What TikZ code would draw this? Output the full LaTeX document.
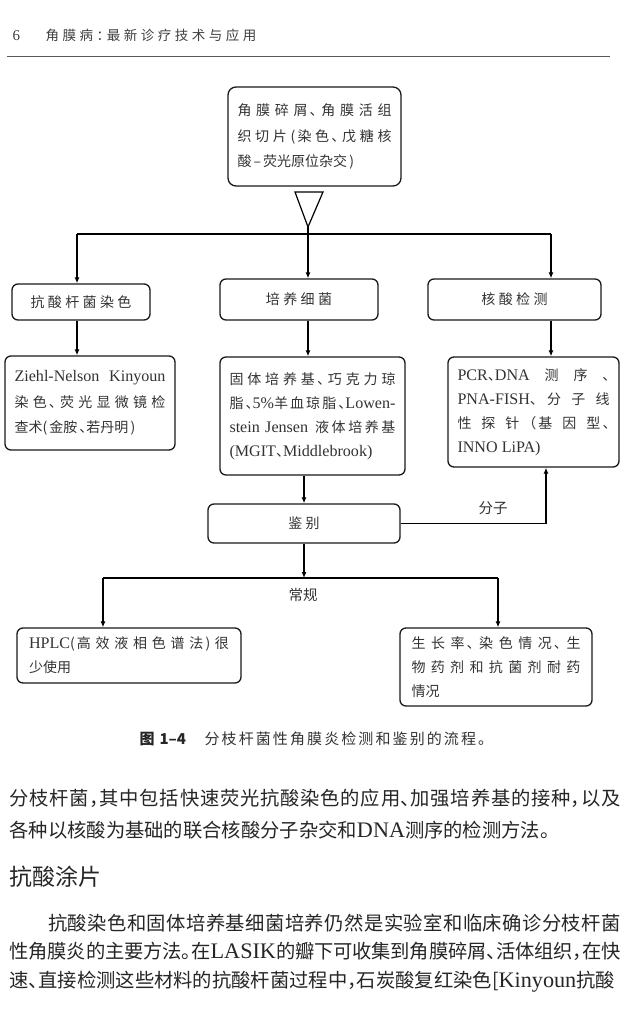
\documentclass[tikz,border=0pt]{standalone}
\usepackage{fontspec}
\usepackage{tikz}
\usetikzlibrary{arrows.meta}
\setmainfont{Liberation Serif}[Scale=1.15]
\newfontfamily\cjk{Noto Sans CJK SC}[RawFeature=+halt]
\newfontfamily\cjkbox{Noto Sans CJK SC}[LetterSpace=15,RawFeature=+halt]
\newfontfamily\cjkwide{Noto Sans CJK SC}[LetterSpace=24,RawFeature=+halt]
\newfontfamily\cjkhead{Noto Sans CJK SC}[LetterSpace=26,RawFeature=+halt]
\newfontfamily\cjkcap{Noto Sans CJK SC}[LetterSpace=14,RawFeature=+halt]
\newcommand{\en}[1]{{\rmfamily #1}}
\XeTeXlinebreaklocale "zh"
\XeTeXlinebreakskip=0pt plus 4pt minus 1pt
\tolerance=10000
\hbadness=10000

\begin{document}
\begin{tikzpicture}[x=1pt, y=-1pt, line width=1.2pt,
  >={Latex[length=6pt,width=5pt]},
  flowbox/.style={draw=black!90, line width=1.3pt, rounded corners=6pt,
    inner xsep=9.5pt, inner ysep=0pt, text=black!80,
    font=\cjkwide\fontsize{14}{24}\selectfont},
  textbox/.style={flowbox, align=justify, font=\cjkbox\fontsize{14}{24}\selectfont},
  tag/.style={text=black!80, inner sep=0pt, font=\cjk\fontsize{14.5}{16}\selectfont},
  bodytext/.style={anchor=base west, inner sep=0pt, text=black!85, align=justify,
    text width=611pt}]
% Page
\fill[white] (0,0) rectangle (640,1012);
\useasboundingbox (0,0) rectangle (640,1012);
% Running head
\node[anchor=base west, inner sep=0pt, text=black!75, font=\rmfamily\fontsize{13}{14}\selectfont] (pagenum) at (12,40) {6};
\node[anchor=base west, inner sep=0pt, text=black!75, font=\cjkhead\fontsize{13.5}{14}\selectfont] (runhead) at (45,40) {角膜病：最新诊疗技术与应用};
\draw[black!65, line width=0.9pt] (7,56) -- (610,56);

% Draw boxes
\node[textbox, rounded corners=8pt, text width=154pt, minimum height=99pt, font=\cjkbox\fontsize{14}{25.5}\selectfont] (sample) at (314.5,136.5)
  {角膜碎屑、角膜活组\linebreak 织切片(染色、戊糖核\linebreak 酸–荧光原位杂交)};
\node[flowbox, minimum width=138pt, minimum height=36pt] (stain) at (81,302) {抗酸杆菌染色};
\node[flowbox, minimum width=158pt, minimum height=41pt] (culture) at (299,299.5) {培养细菌};
\node[flowbox, minimum width=173pt, minimum height=41pt] (nucleic) at (514.5,299.5) {核酸检测};
\node[textbox, text width=151pt, minimum height=94pt, font=\cjkbox\fontsize{14}{25.5}\selectfont] (ziehl) at (90,403)
  {\en{Ziehl-Nelson Kinyoun}\linebreak 染色、荧光显微镜检\linebreak 查术(金胺、若丹明)};
\node[textbox, text width=166pt, minimum height=118pt] (media) at (312.5,416)
  {固体培养基、巧克力琼\linebreak 脂、\en{5\%}羊血琼脂、\en{Lowen-}\linebreak \en{stein Jensen} 液体培养基\linebreak \en{(MGIT}、\en{Middlebrook)}};
\node[textbox, text width=152pt, minimum height=110pt] (molec) at (533.5,412)
  {\en{PCR}、\en{DNA} 测 序 、\linebreak \en{PNA-FISH}、分子线\linebreak 性探针（基因型、\linebreak \en{INNO LiPA)}};
\node[flowbox, minimum width=192pt, minimum height=39pt] (ident) at (304,523.5) {鉴别};
\node[textbox, inner xsep=12pt, text width=200pt, minimum height=55pt] (hplc) at (129,655.5)
  {\en{HPLC}(高效液相色谱法)很\linebreak 少使用};
\node[textbox, inner xsep=11.5pt, text width=169pt, minimum height=78pt] (growth) at (496,667)
  {生长率、染色情况、生\linebreak 物药剂和抗菌剂耐药\linebreak 情况};
\node[tag] (moltag) at (493,508) {分子};
\node[tag] (routine) at (303,595) {常规};

% Draw connectors
\coordinate (apex) at (308,227);
\coordinate (fork) at (308,234);
\coordinate (busL) at (77,234);
\coordinate (busR) at (551,234);
\coordinate (turn) at (546,523.5);
\coordinate (rbusL) at (103,578);
\coordinate (rbusR) at (498,578);
\draw[line join=miter] (295,192) -- (323,192) -- (apex) -- cycle;
\draw (apex) -- (fork);
\draw (busL) -- (busR);
\draw[->] (busL) -- (busL |- stain.north);
\draw[->] (fork) -- (fork |- culture.north);
\draw[->] (busR) -- (busR |- nucleic.north);
\draw[->] (busL |- stain.south) -- (busL |- ziehl.north);
\draw[->] (fork |- culture.south) -- (fork |- media.north);
\draw[->] (busR |- nucleic.south) -- (busR |- molec.north);
\draw[->] (media.south -| ident) -- (ident.north);
\draw[->] (ident.east) -- (turn) -- (turn |- molec.south);
\draw[->] (ident.south) -- (ident.south |- rbusL);
\draw (rbusL) -- (rbusR);
\draw[->] (rbusL) -- (rbusL |- hplc.north);
\draw[->] (rbusR) -- (rbusR |- growth.north);

% Caption and text
\node[anchor=base west, inner sep=0pt, text=black!85, font=\cjk\bfseries\fontsize{15}{16}\selectfont] (fignum) at (139,744.7) {图\hspace{5pt}1–4};
\node[anchor=base west, inner sep=0pt, text=black!80, font=\cjkcap\fontsize{15}{16}\selectfont] (figcap) at (204,744.7) {分枝杆菌性角膜炎检测和鉴别的流程。};
\node[bodytext, font=\cjk\fontsize{19.3}{32}\selectfont] (para1) at (9,805.4)
  {分枝杆菌，其中包括快速荧光抗酸染色的应用、加强培养基的接种，以及\linebreak 各种以核酸为基础的联合核酸分子杂交和\en{DNA}测序的检测方法。};
\node[anchor=base west, inner sep=0pt, text=black!85, font=\cjk\fontsize{23}{24}\selectfont] (heading) at (9,885.7) {抗酸涂片};
\node[bodytext, font=\cjk\fontsize{19.3}{28.5}\selectfont] (para2) at (9,930.4)
  {\parfillskip=0pt\hspace*{2em}抗酸染色和固体培养基细菌培养仍然是实验室和临床确诊分枝杆菌\linebreak 性角膜炎的主要方法。在\en{LASIK}的瓣下可收集到角膜碎屑、活体组织，在快\linebreak 速、直接检测这些材料的抗酸杆菌过程中，石炭酸复红染色[\en{Kinyoun}抗酸};
\end{tikzpicture}
\end{document}
